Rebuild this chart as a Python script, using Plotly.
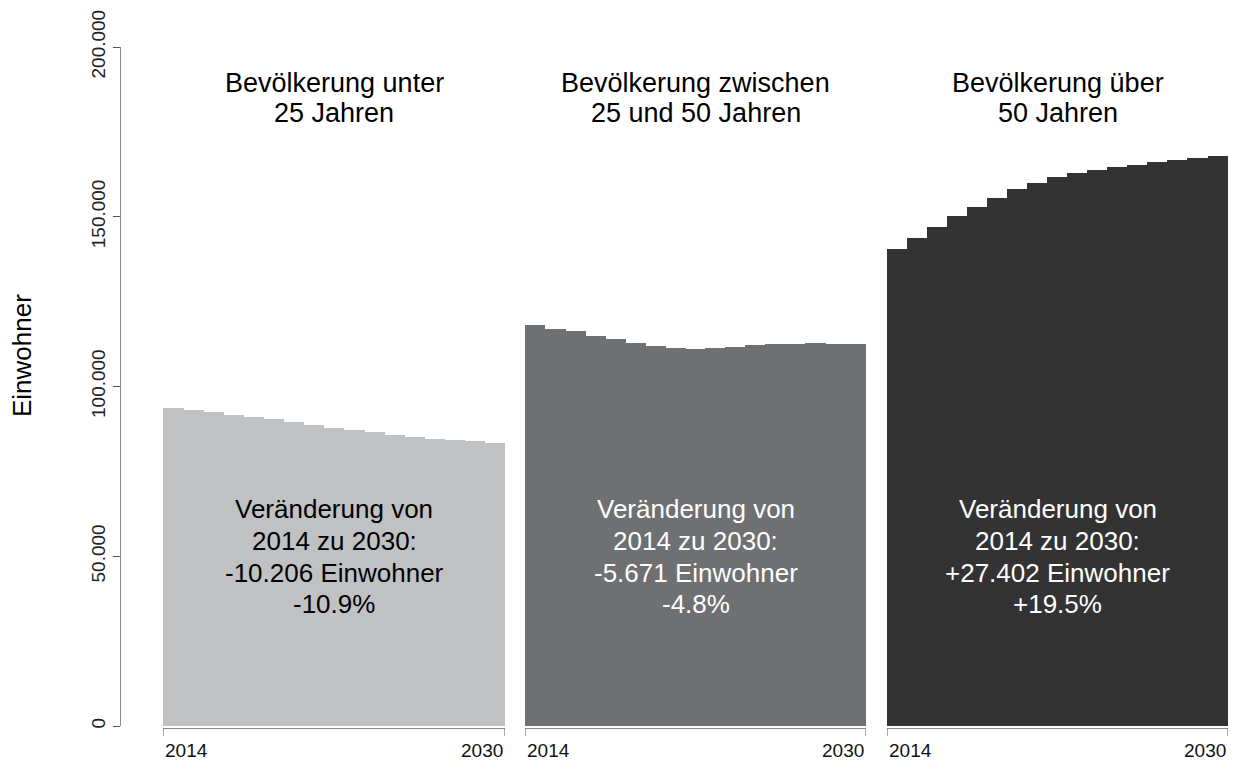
import plotly.graph_objects as go

years = list(range(2014, 2031))

unter25 = [93633, 93143, 92554, 91671, 90984, 90298, 89611, 88728, 87845,
           87158, 86570, 85785, 85098, 84608, 84117, 83921, 83427]
zwischen25_50 = [118146, 116972, 116386, 114821, 113941, 112670, 111789, 111300,
                 111105, 111300, 111691, 112181, 112376, 112474, 112670, 112572, 112475]
ueber50 = [140523, 143665, 146906, 150147, 152994, 155646, 158199, 160065, 161832,
           163011, 163698, 164680, 165269, 166055, 166644, 167332, 167925]

group_titles = [["Bevölkerung unter", "25 Jahren"],
                ["Bevölkerung zwischen", "25 und 50 Jahren"],
                ["Bevölkerung über", "50 Jahren"]]
change_texts = [["Veränderung von", "2014 zu 2030:", "-10.206 Einwohner", "-10.9%"],
                ["Veränderung von", "2014 zu 2030:", "-5.671 Einwohner", "-4.8%"],
                ["Veränderung von", "2014 zu 2030:", "+27.402 Einwohner", "+19.5%"]]
colors = ["#C0C1C3", "#6F7072", "#333333"]
text_colors = ["#000000", "#FFFFFF", "#FFFFFF"]

ytick_vals = [0, 50000, 100000, 150000, 200000]
ytick_text = ["0", "50.000", "100.000", "150.000", "200.000"]

FONT = "Liberation Sans, Arial, sans-serif"

W, H = 1236, 762
ml, mr, mt, mb = 120, 8, 47, 36
pw = W - ml - mr
ph = H - mt - mb

def px2xpaper(p):
    return (p - ml) / pw

def px2ypaper(p):
    return (H - mb - p) / ph

domains = [
    [px2xpaper(163), px2xpaper(505)],
    [px2xpaper(525), px2xpaper(866)],
    [px2xpaper(887), px2xpaper(1228)],
]

fig = go.Figure()
series = [unter25, zwischen25_50, ueber50]
axnames = ["x", "x2", "x3"]
for i, (vals, ax) in enumerate(zip(series, axnames)):
    fig.add_trace(go.Bar(
        x=years, y=vals, width=[1.04] * len(years),
        marker=dict(color=colors[i], line=dict(width=0)),
        xaxis=ax, yaxis="y", showlegend=False, hoverinfo="x+y",
    ))

layout = dict(
    width=W, height=H,
    margin=dict(l=ml, r=mr, t=mt, b=mb),
    paper_bgcolor="white", plot_bgcolor="white",
    bargap=0,
    font=dict(family=FONT, color="#000000"),
    yaxis=dict(
        range=[0, 200000], anchor="free", position=0,
        showgrid=False, zeroline=False, showline=True, linecolor="#888888", linewidth=1,
        ticks="outside", ticklen=7, tickcolor="#555555",
        tickvals=ytick_vals, ticktext=ytick_text, tickangle=-90,
        tickfont=dict(size=19, color="#222222", family=FONT),
    ),
)
for i, ax in enumerate(axnames):
    key = "xaxis" if ax == "x" else "xaxis" + ax[1:]
    layout[key] = dict(domain=domains[i], range=[2013.5, 2030.5], anchor="y",
                       visible=False, showgrid=False, zeroline=False)
fig.update_layout(**layout)

shapes = []
annotations = []
y_line = px2ypaper(728.5)
y_tick = px2ypaper(736)
title_rows = [83, 113]
change_rows = [509, 541, 573, 604]
for i, ax in enumerate(axnames):
    xref = ax
    shapes.append(dict(type="line", xref=xref, yref="paper", x0=2013.5, x1=2030.5,
                       y0=y_line, y1=y_line, line=dict(color="#888888", width=1)))
    for xv in (2013.5, 2030.5):
        shapes.append(dict(type="line", xref=xref, yref="paper", x0=xv, x1=xv,
                           y0=y_line, y1=y_tick, line=dict(color="#555555", width=1)))
    annotations.append(dict(xref=xref, yref="paper", x=2013.5, y=px2ypaper(738),
                            text=str(years[0]), showarrow=False, xanchor="left", yanchor="top",
                            font=dict(size=19, color="#111111")))
    annotations.append(dict(xref=xref, yref="paper", x=2030.5, y=px2ypaper(738),
                            text=str(years[-1]), showarrow=False, xanchor="right", yanchor="top",
                            font=dict(size=19, color="#111111")))
    for line, row in zip(group_titles[i], title_rows):
        annotations.append(dict(xref=xref, yref="paper", x=2022, y=px2ypaper(row),
                                text=line, showarrow=False, xanchor="center",
                                yanchor="middle", font=dict(size=27, color="#000000")))
    for line, row in zip(change_texts[i], change_rows):
        annotations.append(dict(xref=xref, yref="paper", x=2022, y=px2ypaper(row),
                                text=line, showarrow=False, xanchor="center",
                                yanchor="middle", font=dict(size=26, color=text_colors[i])))

annotations.append(dict(xref="paper", yref="paper", x=px2xpaper(22), y=px2ypaper(356),
                        text="Einwohner", showarrow=False, textangle=-90,
                        xanchor="center", yanchor="middle",
                        font=dict(size=26, color="#000000")))

fig.update_layout(shapes=shapes, annotations=annotations)
fig.write_html("out.html", config={"displayModeBar": False},
               post_script="document.body.style.margin='0';document.body.style.overflow='hidden';")
